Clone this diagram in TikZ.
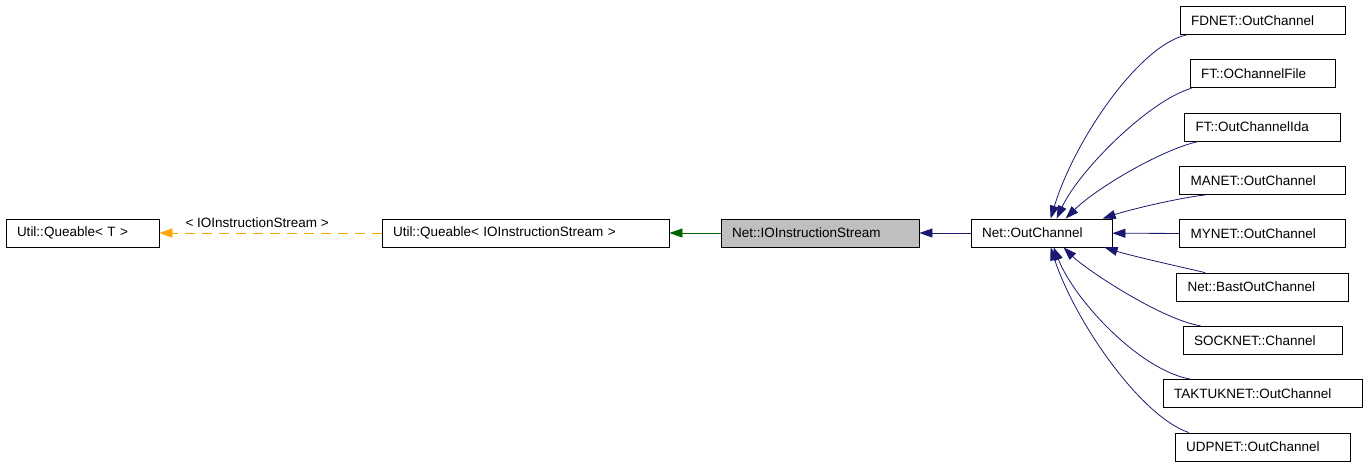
\documentclass[tikz,border=0pt]{standalone}
\usepackage{fontspec}
\setmainfont{Liberation Sans}
\usetikzlibrary{arrows.meta,positioning}
\definecolor{edgeblue}{RGB}{25,25,112}
\definecolor{edgegreen}{RGB}{0,100,0}
\definecolor{edgeorange}{RGB}{255,165,0}
\definecolor{focusgray}{RGB}{191,191,191}
\tikzset{
  every picture/.style={x=1pt, y=1pt, font=\fontsize{13.5}{15}\selectfont},
  box/.style={draw=black, fill=white, line width=0.8pt, align=left, inner xsep=11pt, inner ysep=0pt, minimum height=28pt},
  focus/.style={box, fill=focusgray},
  inh/.style={-{Triangle[length=13pt,width=9pt]}, line width=0.8pt, color=edgeblue},
  pub/.style={inh, color=edgegreen},
  tmpl/.style={-{Triangle[length=13pt,width=9pt]}, line width=0.8pt, color=edgeorange, dash pattern=on 10pt off 7pt},
  lbl/.style={inner sep=2pt, text=black},
}

\begin{document}
\begin{tikzpicture}
  \useasboundingbox (0,0) rectangle (1368,-467);
  % base chain, left to right
  \node[box, text width=131pt] (qt) at (82.5,-233) {Util::Queable< T >};
  \node[box, text width=265pt, right=222.2pt of qt] (qio) {Util::Queable< IOInstructionStream >};
  \node[focus, text width=176pt, right=51.2pt of qio] (ios) {Net::IOInstructionStream};
  \node[box, text width=119pt, right=51.2pt of ios] (outch) {Net::OutChannel};
  % derived channels
  \node[box, text width=143pt] (fdnet) at (1262.5,-20.5) {FDNET::OutChannel};
  \node[box, text width=123pt, below=24.5pt of fdnet] (ochfile) {FT::OChannelFile};
  \node[box, text width=134pt, below=24.5pt of ochfile] (ida) {FT::OutChannelIda};
  \node[box, text width=144pt, below=24.5pt of ida] (manet) {MANET::OutChannel};
  \node[box, text width=144pt, below=24.5pt of manet] (mynet) {MYNET::OutChannel};
  \node[box, text width=150pt, below=24.5pt of mynet] (bast) {Net::BastOutChannel};
  \node[box, text width=137pt, below=24.5pt of bast] (sock) {SOCKNET::Channel};
  \node[box, text width=177pt, below=24.5pt of sock] (taktuk) {TAKTUKNET::OutChannel};
  \node[box, text width=153pt, below=24.5pt of taktuk] (udp) {UDPNET::OutChannel};

  \draw[tmpl] (qio) -- node[lbl, above=3pt, pos=0.56] {< IOInstructionStream >} (qt);
  \draw[pub] (ios) -- (qio);
  \draw[inh] (outch) -- (ios);
  \draw[inh] (mynet) -- (outch);
  \draw[inh] ([xshift=7pt]fdnet.south west) .. controls +(-47,-10) and +(24,79) .. ([xshift=80pt]outch.north west);
  \draw[inh] ([xshift=2pt]ochfile.south west) .. controls +(-42,-12) and +(23,49) .. ([xshift=86pt]outch.north west);
  \draw[inh] ([xshift=14pt]ida.south west) .. controls +(-39,-9) and +(29,29) .. ([xshift=95pt]outch.north west);
  \draw[inh] ([xshift=27pt]manet.south west) .. controls +(-27,-3) and +(27,9) .. ([xshift=132pt]outch.north west);
  \draw[inh] ([xshift=29pt]bast.north west) .. controls +(-26,6) and +(25,-8) .. ([xshift=134pt]outch.south west);
  \draw[inh] ([xshift=18pt]sock.north west) .. controls +(-41,7) and +(21,-21) .. ([xshift=93pt]outch.south west);
  \draw[inh] ([xshift=28pt]taktuk.north west) .. controls +(-51,9) and +(21,-53) .. ([xshift=83pt]outch.south west);
  \draw[inh] ([xshift=14pt]udp.north west) .. controls +(-49,17) and +(24,-73) .. ([xshift=80pt]outch.south west);
\end{tikzpicture}
\end{document}
